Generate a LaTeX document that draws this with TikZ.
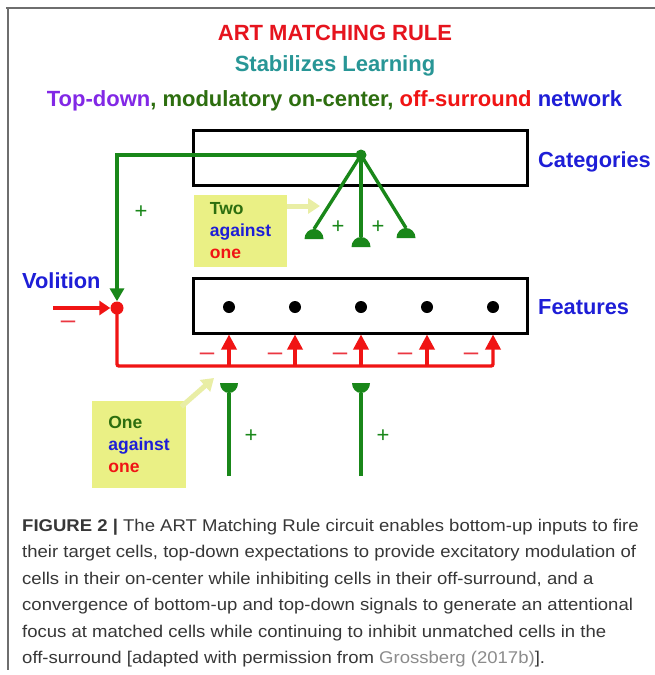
\documentclass[tikz,border=0pt]{standalone}
\usepackage{fontspec}
\setmainfont{Liberation Sans}
\newfontfamily\capfont[FakeStretch=1.09]{Liberation Sans}
\usetikzlibrary{arrows.meta}

\definecolor{titlered}{RGB}{230,20,30}
\definecolor{teal2}{RGB}{40,150,150}
\definecolor{purp}{RGB}{130,40,230}
\definecolor{tdgreen}{RGB}{25,135,25}
\definecolor{dkgreen}{RGB}{45,110,15}
\definecolor{inhred}{RGB}{240,20,20}
\definecolor{minred}{RGB}{235,55,65}
\definecolor{lblue}{RGB}{30,30,215}
\definecolor{boxyel}{RGB}{234,240,133}
\definecolor{arryel}{RGB}{233,238,165}
\definecolor{captxt}{RGB}{55,55,55}
\definecolor{caplink}{RGB}{140,140,140}
\definecolor{framegray}{RGB}{110,110,110}

\tikzset{
  title/.style={font=\fontsize{22}{26}\selectfont\bfseries, inner sep=0, anchor=base},
  lbl/.style={font=\fontsize{21.8}{25}\selectfont\bfseries, text=lblue, inner sep=0, anchor=base west},
  layer/.style={draw=black, line width=3pt, minimum width=334pt, minimum height=55pt, inner sep=0},
  cellnode/.style={circle, fill=black, inner sep=0, minimum size=12pt},
  gline/.style={draw=tdgreen, line width=3.4pt},
  rline/.style={draw=inhred, line width=3.4pt},
  redtip/.style={-{Triangle[width=15pt,length=15pt]}},
  greentip/.style={-{Triangle[width=14pt,length=13pt]}},
  plussign/.style={font=\fontsize{22}{24}\selectfont, text=tdgreen, inner sep=0},
  minussign/.style={font=\fontsize{26}{28}\selectfont, text=minred, inner sep=0},
  notebox/.style={fill=boxyel, inner sep=0, align=left, font=\fontsize{17.5}{22}\selectfont\bfseries},
  yarrow/.style={draw=arryel, line width=5pt, -{Triangle[width=15pt,length=12pt]}},
  captext/.style={font=\capfont\fontsize{17}{20}\selectfont, text=captxt, inner sep=0, anchor=base west},
  pics/domeup/.style={code={\fill[tdgreen] (-9.5pt,-10pt) arc[start angle=180,end angle=0,x radius=9.5pt,y radius=10pt] -- cycle;}},
  pics/domedown/.style={code={\fill[tdgreen] (-9pt,10pt) arc[start angle=180,end angle=360,x radius=9pt,y radius=10pt] -- cycle;}},
}

\begin{document}
\begin{tikzpicture}[x=1pt,y=-1pt]
\useasboundingbox (0,0) rectangle (655,675);
\fill[white] (0,0) rectangle (655,675);

% frame lines at the top and left
\draw[framegray, line width=1.5pt] (6,8) -- (655,8);
\draw[framegray, line width=1.5pt] (8,8) -- (8,670);

% headings
\node[title, text=titlered] (t1) at (335,40.5) {ART MATCHING RULE};
\node[title, text=teal2] (t2) at (335,71.5) {Stabilizes Learning};
\node[title] (t3) at (334.5,106.5) {\textcolor{purp}{Top-down}\textcolor{dkgreen}{, modulatory on-center,} \textcolor{inhred}{off-surround} \textcolor{lblue}{network}};

% the two layers
\node[layer] (cat) at (360,157.5) {};
\node[layer] (feat) at (360,305.5) {};
\node[lbl] (catlbl) at (538,167) {Categories};
\node[lbl] (featlbl) at (538,314.5) {Features};
\node[lbl] (vollbl) at (22,288) {Volition};

% feature cells
\foreach \i/\x in {1/229,2/295,3/361,4/427,5/493}
  \node[cellnode] (f\i) at (\x,307) {};

% category cell and volition gate
\node[circle, fill=tdgreen, inner sep=0, minimum size=11pt] (top) at (361,155) {};
\node[circle, fill=inhred, inner sep=0, minimum size=13pt] (vol) at (117,308) {};

% top-down branch to the volition gate
\draw[gline, greentip] (top.center) -| (vol.north);
\node[plussign] (p0) at (141,212) {+};

% top-down fan into the feature layer
\coordinate (d1) at (314,229);
\coordinate (d2) at (361,237);
\coordinate (d3) at (406,228);
\draw[gline] (top.center) -- (d1);
\draw[gline] (top.center) -- (d2);
\draw[gline] (top.center) -- (d3);
\pic at (d1) {domeup};
\pic at (d2) {domeup};
\pic at (d3) {domeup};
\node[plussign] (p1) at (338,227) {+};
\node[plussign] (p2) at (378,227) {+};

% note: two against one
\node[notebox, minimum width=93pt, minimum height=72pt] (two) at (240.5,231)
  {\textcolor{dkgreen}{Two}\\\textcolor{lblue}{against}\\\textcolor{inhred}{one}};
\coordinate (twotip) at (320,206);
\draw[yarrow] (two.east |- twotip) -- (twotip);

% volition input
\coordinate (volin) at (53,308);
\draw[rline, -{Triangle[width=14pt,length=11pt]}] (volin) -- (vol.west);
\node[minussign] (mv) at (68,325) {–};

% off-surround inhibition
\coordinate (rb) at (117,366);
\foreach \i/\x in {1/229,2/295,3/361,4/427,5/493}
  \coordinate (r\i) at (\x,366);
\draw[rline, redtip, rounded corners=2pt] (vol.center) -- (rb) -- (r5) -- (r5 |- feat.south);
\foreach \i in {1,...,4}
  \draw[rline, redtip] (r\i) -- (r\i |- feat.south);
\foreach \i/\x in {1/207,2/275,3/340,4/405,5/471}
  \node[minussign] (m\i) at (\x,357) {–};

% bottom-up inputs
\coordinate (b1) at (229,393);
\coordinate (b2) at (361,393);
\coordinate (b1s) at (229,476);
\coordinate (b2s) at (361,476);
\draw[gline] (b1s) -- (b1);
\draw[gline] (b2s) -- (b2);
\pic at (b1) {domedown};
\pic at (b2) {domedown};
\node[plussign] (p3) at (251,436) {+};
\node[plussign] (p4) at (383,436) {+};

% note: one against one
\node[notebox, minimum width=94pt, minimum height=87pt] (one) at (139,444.5)
  {\textcolor{dkgreen}{One}\\\textcolor{lblue}{against}\\\textcolor{inhred}{one}};
\coordinate (onetip) at (214,378);
\draw[yarrow] ([xshift=-5pt,yshift=-6pt]one.north east) -- (onetip);

% caption
\node[captext] (c1) at (22,531) {\textbf{FIGURE 2 |} The ART Matching Rule circuit enables bottom-up inputs to fire};
\node[captext] (c2) at (22,557.5) {their target cells, top-down expectations to provide excitatory modulation of};
\node[captext] (c3) at (22,584) {cells in their on-center while inhibiting cells in their off-surround, and a};
\node[captext] (c4) at (22,610.5) {convergence of bottom-up and top-down signals to generate an attentional};
\node[captext] (c5) at (22,637) {focus at matched cells while continuing to inhibit unmatched cells in the};
\node[captext] (c6) at (22,663.5) {off-surround [adapted with permission from \textcolor{caplink}{Grossberg (2017b)}].};
\end{tikzpicture}
\end{document}
